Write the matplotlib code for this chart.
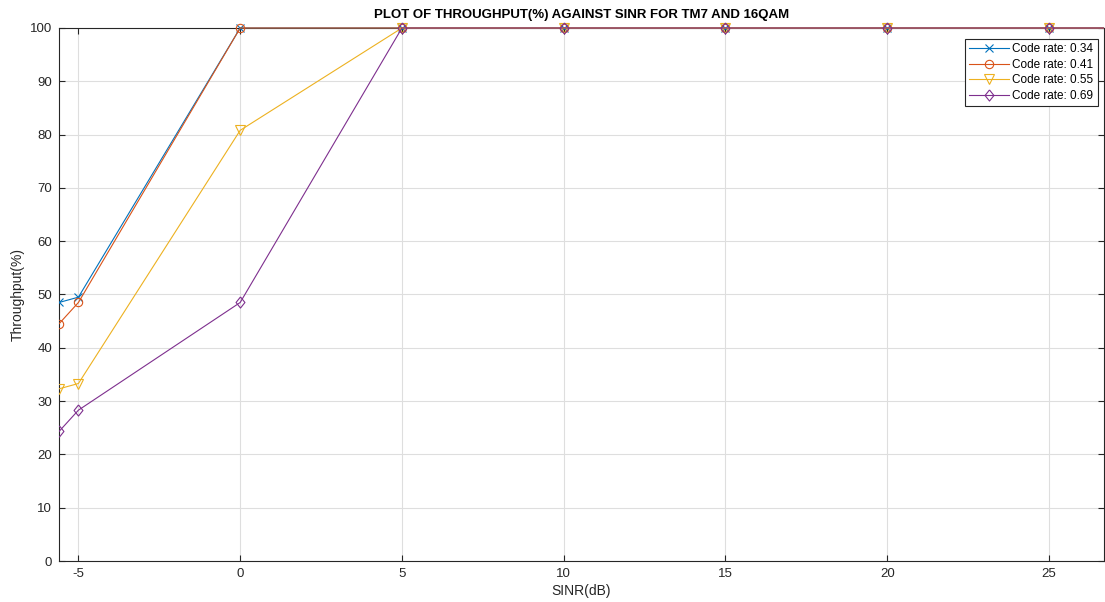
import matplotlib
matplotlib.use("Agg")
import matplotlib.pyplot as plt
from matplotlib.transforms import Bbox, TransformedBbox

plt.rcParams["font.family"] = ["Liberation Sans", "DejaVu Sans"]
plt.rcParams["axes.unicode_minus"] = False

# SINR points (dB) and throughput (%) per code rate
sinr = [-5.6, -5, 0, 5, 10, 15, 20, 25, 30]
tp_034 = [48.5, 49.5, 100, 100, 100, 100, 100, 100, 100]
tp_041 = [44.5, 48.5, 100, 100, 100, 100, 100, 100, 100]
tp_055 = [32.3, 33.3, 80.8, 100, 100, 100, 100, 100, 100]
tp_069 = [24.3, 28.3, 48.5, 100, 100, 100, 100, 100, 100]

# MATLAB-like diamond (a bit wider than matplotlib's thin 'd')
diamond = [(0, 1), (0.8, 0), (0, -1), (-0.8, 0), (0, 1)]

series = [
    ("Code rate: 0.34", tp_034, "#0072BD", "x", 5.5),
    ("Code rate: 0.41", tp_041, "#D95319", "o", 6),
    ("Code rate: 0.55", tp_055, "#EDB120", "v", 6.5),
    ("Code rate: 0.69", tp_069, "#7E2F8E", diamond, 8),
]

fig = plt.figure(figsize=(11.05, 6.02), dpi=100)
ax = fig.add_axes([0.0534, 0.0681, 0.9457, 0.8854])

# clip only left/right so markers sitting on y=100 stay whole
clip = TransformedBbox(Bbox([[0, -0.05], [1, 1.05]]), ax.transAxes)
for label, vals, col, mk, ms in series:
    ln, = ax.plot(sinr, vals, color=col, marker=mk, markersize=ms,
                  markerfacecolor="none", markeredgewidth=0.8, linewidth=0.8,
                  label=label, zorder=3)
    ln.set_clip_box(clip)

ax.set_xlim(-5.6, 26.7)
ax.set_ylim(0, 100)
ax.set_xticks([-5, 0, 5, 10, 15, 20, 25])
ax.set_yticks(range(0, 101, 10))
ax.grid(True, color="#dedede", linewidth=0.8)
ax.set_axisbelow(True)
ax.tick_params(direction="in", length=4, width=0.8, colors="#262626",
               labelsize=9.5, top=True, right=True, pad=5)
for sp in ax.spines.values():
    sp.set_color("#262626")
    sp.set_linewidth(0.8)

ax.set_xlabel("SINR(dB)", fontsize=10, color="#262626", labelpad=3)
ax.set_ylabel("Throughput(%)", fontsize=10, color="#262626", labelpad=4)
ax.set_title("PLOT OF THROUGHPUT(%) AGAINST SINR FOR TM7 AND 16QAM",
             fontsize=9.5, fontweight="bold", pad=7)

leg = ax.legend(loc="upper right", fontsize=8.5, fancybox=False,
                framealpha=1, edgecolor="#262626", borderpad=0.35,
                labelspacing=0.3, handlelength=3.4, handletextpad=0.3,
                bbox_to_anchor=(0.9995, 0.99))
leg.get_frame().set_linewidth(0.8)

fig.savefig("out.png", dpi=100)
